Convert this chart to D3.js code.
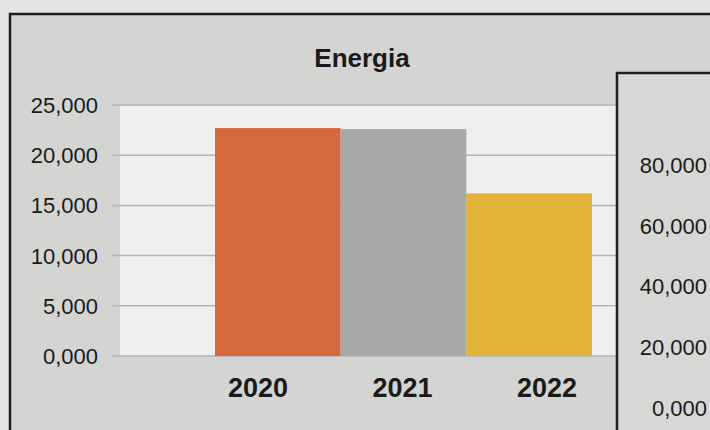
<!DOCTYPE html>
<html>
<head>
<meta charset="utf-8">
<script src="https://cdn.jsdelivr.net/npm/d3@7"></script>
<style>
  body { margin: 0; background: #e4e4e2; }
  text { font-family: "Liberation Sans", Arial, sans-serif; fill: #1a1a1a; }
</style>
</head>
<body>
<svg id="chart" width="710" height="430"></svg>
<script>
// data
var years = ["2020", "2021", "2022"];
var energia = [22700, 22600, 16200];
var barColors = ["#d5683c", "#a9a9a7", "#e2b239"];
var leftTicks = [0, 5000, 10000, 15000, 20000, 25000];
var rightTicks = [0, 20000, 40000, 60000, 80000];

var fmt = function(v) { return d3.format(",.3f")(v / 1000).replace(".", ","); };

var svg = d3.select("#chart");

// outer frame of main chart
svg.append("rect")
  .attr("x", 10).attr("y", 14)
  .attr("width", 720).attr("height", 430)
  .attr("fill", "#d4d4d2")
  .attr("stroke", "#1e1e1e")
  .attr("stroke-width", 2.5);

var y = d3.scaleLinear().domain([0, 25000]).range([356, 105]);
var x = d3.scaleBand().domain(years).range([215, 592]).padding(0);
var xLabel = d3.scalePoint().domain(years).range([258, 547]);

// plot area
svg.append("rect")
  .attr("x", 120).attr("y", y(25000))
  .attr("width", 500).attr("height", y(0) - y(25000))
  .attr("fill", "#efefed");

// grid
svg.append("g")
  .selectAll("line")
  .data(leftTicks)
  .join("line")
  .attr("x1", 112).attr("x2", 620)
  .attr("y1", function(d) { return y(d); })
  .attr("y2", function(d) { return y(d); })
  .attr("stroke", "#b5b5b3")
  .attr("stroke-width", 1.5);

// y axis labels
svg.append("g")
  .selectAll("text")
  .data(leftTicks)
  .join("text")
  .attr("x", 98)
  .attr("y", function(d) { return y(d); })
  .attr("dy", "0.36em")
  .attr("text-anchor", "end")
  .style("font-size", "22px")
  .text(fmt);

// bars
svg.append("g")
  .selectAll("rect")
  .data(energia)
  .join("rect")
  .attr("x", function(d, i) { return x(years[i]); })
  .attr("y", function(d) { return y(d); })
  .attr("width", x.bandwidth())
  .attr("height", function(d) { return y(0) - y(d); })
  .attr("fill", function(d, i) { return barColors[i]; });

// year labels
svg.append("g")
  .selectAll("text")
  .data(years)
  .join("text")
  .attr("x", function(d) { return xLabel(d); })
  .attr("y", 397)
  .attr("text-anchor", "middle")
  .style("font-size", "27px")
  .style("font-weight", "bold")
  .text(function(d) { return d; });

// title
svg.append("text")
  .attr("x", 362).attr("y", 67)
  .attr("text-anchor", "middle")
  .style("font-size", "26px")
  .style("font-weight", "bold")
  .text("Energia");

// second chart peeking in on the right
svg.append("rect")
  .attr("x", 617).attr("y", 73)
  .attr("width", 120).attr("height", 400)
  .attr("fill", "#d7d7d5")
  .attr("stroke", "#1e1e1e")
  .attr("stroke-width", 2.5);

var y2 = d3.scaleLinear().domain([0, 80000]).range([408, 165]);

svg.append("g")
  .selectAll("text")
  .data(rightTicks)
  .join("text")
  .attr("x", 707)
  .attr("y", function(d) { return y2(d); })
  .attr("dy", "0.36em")
  .attr("text-anchor", "end")
  .style("font-size", "22px")
  .text(fmt);
</script>
</body>
</html>
